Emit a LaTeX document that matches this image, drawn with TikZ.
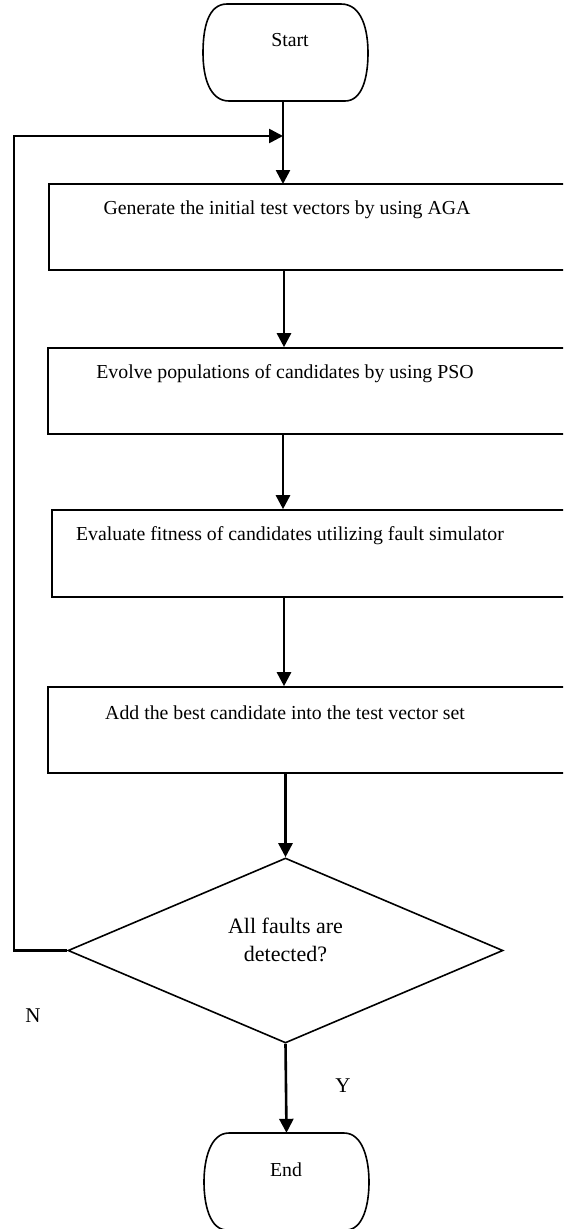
\documentclass[tikz,border=0pt]{standalone}
\usepackage{fontspec}
\setmainfont{Liberation Serif}
\usetikzlibrary{arrows.meta,shapes.geometric}
\begin{document}
\begin{tikzpicture}[x=1pt,y=-1pt,
  boxs/.style={draw, line width=1.6pt, rectangle, inner sep=0pt, minimum width=560pt, minimum height=86pt},
  txt/.style={font=\fontsize{19.8}{22}\selectfont, inner sep=0pt},
  arr/.style={line width=2.6pt, -{Triangle[width=14pt,length=14pt]}},
  lbl/.style={font=\fontsize{21}{24}\selectfont, inner sep=0pt}]
\useasboundingbox (0,0) rectangle (563,1229);
\clip (0,0) rectangle (563,1229);
% Start terminal
\node[inner sep=0pt, minimum width=165pt, minimum height=97pt] (start) at (285,52.5) {};
\draw[line width=1.6pt] (227,4) -- (341,4) .. controls (362,4) and (368,30) .. (368,53)
  .. controls (368,78) and (362,101) .. (345,101) -- (229,101)
  .. controls (210,101) and (203,78) .. (203,53) .. controls (203,28) and (208,4) .. (227,4) -- cycle;
\node[txt] (tstart) at (290,40) {Start};
% boxes
\node[boxs] (b1) at (329,227) {};
\node[txt] (t1) at (287,210) {Generate the initial test vectors by using AGA};
\node[boxs] (b2) at (328,391) {};
\node[txt] (t2) at (285,374) {Evolve populations of candidates by using PSO};
\node[boxs, minimum height=87pt] (b3) at (332,553.5) {};
\node[txt] (t3) at (290,536) {Evaluate fitness of candidates utilizing fault simulator};
\node[boxs] (b4) at (328,730) {};
\node[txt] (t4) at (285,713) {Add the best candidate into the test vector set};
% decision
\node[draw, line width=1.6pt, diamond, inner sep=0pt, minimum width=435pt, minimum height=185pt] (dia) at (285.5,950.5) {};
\node[font=\fontsize{22}{28}\selectfont, align=center, inner sep=0pt] (tdia) at (285.5,940) {All faults are\\detected?};
% End terminal
\node[inner sep=0pt, minimum width=165pt, minimum height=97pt] (end) at (286.5,1181.5) {};
\draw[line width=1.6pt] (229,1133) -- (344,1133) .. controls (363,1133) and (369,1160) .. (369,1182)
  .. controls (369,1205) and (363,1230) .. (346,1230) -- (227,1230)
  .. controls (210,1230) and (204,1205) .. (204,1182) .. controls (204,1160) and (210,1133) .. (229,1133) -- cycle;
\node[txt] (tend) at (286,1170) {End};
% connectors
\coordinate (join) at (283,136);
\coordinate (lc) at (14,136);
\draw[arr] (283,101) -- (283,184);
\draw[arr] (dia.west) -| (lc) -- (join);
\draw[arr] (b1.south -| 284,0) -- (b2.north -| 284,0);
\draw[arr] (b2.south -| 283,0) -- (b3.north -| 283,0);
\draw[arr] (b3.south -| 284,0) -- (b4.north -| 284,0);
\draw[arr] (b4.south -| dia.north) -- (dia.north);
\draw[arr] (dia.south) -- (end.north);
\node[lbl] (ln) at (33,1016) {N};
\node[lbl] (ly) at (343,1086) {Y};
\end{tikzpicture}
\end{document}
